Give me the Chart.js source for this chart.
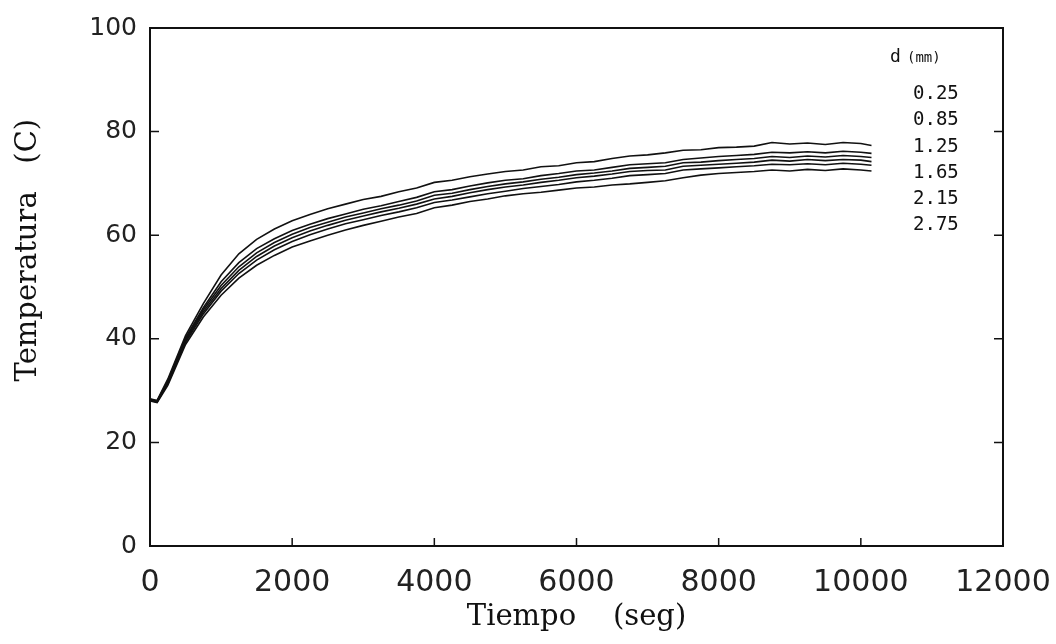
<!DOCTYPE html>
<html>
<head>
<meta charset="utf-8">
<script src="https://cdn.jsdelivr.net/npm/chart.js@4.4.1/dist/chart.umd.min.js"></script>
<style>
  html, body { margin: 0; padding: 0; background: #fff; }
</style>
</head>
<body>
<canvas id="tempChart" width="1056" height="644"></canvas>
<script>
// tiempo (seg) y temperatura (C) para cada diametro d (mm)
const tiempo = [0, 100, 250, 500, 750, 1000, 1250, 1500, 1750, 2000, 2250, 2500, 2750, 3000, 3250, 3500, 3750, 4000, 4250, 4500, 4750, 5000, 5250, 5500, 5750, 6000, 6250, 6500, 6750, 7000, 7250, 7500, 7750, 8000, 8250, 8500, 8750, 9000, 9250, 9500, 9750, 10000, 10150];

const d025 = [28.4, 28.1, 32.2, 40.6, 46.8, 52.3, 56.4, 59.2, 61.2, 62.8, 64.0, 65.1, 66.0, 66.9, 67.5, 68.4, 69.1, 70.2, 70.6, 71.3, 71.8, 72.3, 72.6, 73.2, 73.4, 74.0, 74.2, 74.8, 75.3, 75.5, 75.9, 76.4, 76.5, 76.9, 77.0, 77.2, 77.9, 77.6, 77.8, 77.5, 77.9, 77.7, 77.3];
const d085 = [28.2, 27.9, 31.9, 40.2, 46.0, 51.0, 54.7, 57.4, 59.3, 60.9, 62.1, 63.2, 64.1, 65.0, 65.7, 66.5, 67.3, 68.4, 68.8, 69.5, 70.1, 70.6, 70.9, 71.5, 71.9, 72.4, 72.6, 73.1, 73.6, 73.8, 74.0, 74.6, 74.9, 75.2, 75.4, 75.6, 76.0, 75.9, 76.1, 75.9, 76.2, 76.0, 75.8];
const d125 = [28.3, 28.0, 31.7, 39.9, 45.6, 50.3, 53.9, 56.6, 58.6, 60.2, 61.5, 62.5, 63.5, 64.3, 65.1, 65.8, 66.6, 67.7, 68.1, 68.8, 69.4, 69.9, 70.3, 70.8, 71.2, 71.7, 72.0, 72.4, 72.9, 73.1, 73.3, 74.0, 74.1, 74.4, 74.6, 74.8, 75.2, 75.0, 75.3, 75.1, 75.4, 75.2, 75.0];
const d165 = [28.1, 27.8, 31.5, 39.6, 45.2, 49.7, 53.2, 55.9, 57.9, 59.5, 60.8, 61.9, 62.9, 63.7, 64.5, 65.2, 66.0, 67.0, 67.5, 68.2, 68.8, 69.3, 69.7, 70.2, 70.6, 71.1, 71.4, 71.8, 72.3, 72.5, 72.6, 73.3, 73.5, 73.7, 73.9, 74.1, 74.5, 74.3, 74.6, 74.4, 74.6, 74.5, 74.2];
const d215 = [28.2, 27.9, 31.3, 39.3, 44.8, 49.2, 52.6, 55.2, 57.2, 58.8, 60.1, 61.2, 62.2, 63.0, 63.8, 64.5, 65.3, 66.3, 66.8, 67.4, 68.0, 68.5, 69.0, 69.4, 69.8, 70.3, 70.6, 71.0, 71.5, 71.7, 71.9, 72.6, 72.8, 73.0, 73.2, 73.4, 73.7, 73.6, 73.8, 73.6, 73.9, 73.7, 73.5];
const d275 = [28.0, 27.7, 31.0, 38.9, 44.2, 48.4, 51.7, 54.2, 56.1, 57.7, 58.9, 60.0, 61.0, 61.9, 62.7, 63.5, 64.2, 65.3, 65.8, 66.5, 67.0, 67.6, 68.0, 68.3, 68.7, 69.1, 69.3, 69.7, 69.9, 70.2, 70.5, 71.1, 71.6, 71.9, 72.1, 72.3, 72.6, 72.4, 72.7, 72.5, 72.8, 72.6, 72.4];

const diametros = ["0.25", "0.85", "1.25", "1.65", "2.15", "2.75"];
const series = [d025, d085, d125, d165, d215, d275];
const tituloLeyenda = ["d", "(mm)"];

const nb = "\u00a0";
const tituloX = "Tiempo" + nb.repeat(4) + "(seg)";
const tituloY = nb.repeat(8) + "Temperatura" + nb.repeat(3) + "(C)";

// caja, marcas hacia adentro y leyenda de texto
const cajaYMarcas = {
    id: "cajaYMarcas",
    afterDatasetsDraw(chart) {
        const { ctx, chartArea: a, scales: { x, y } } = chart;
        ctx.save();
        ctx.strokeStyle = "#111";
        ctx.lineWidth = 2;
        ctx.strokeRect(a.left, a.top, a.width, a.height);

        ctx.lineWidth = 1.5;
        ctx.beginPath();
        x.ticks.forEach(t => {
            const px = x.getPixelForValue(t.value);
            ctx.moveTo(px, a.bottom);
            ctx.lineTo(px, a.bottom - 8);
        });
        y.ticks.forEach(t => {
            const py = y.getPixelForValue(t.value);
            ctx.moveTo(a.left, py);
            ctx.lineTo(a.left + 9, py);
            ctx.moveTo(a.right, py);
            ctx.lineTo(a.right - 9, py);
        });
        ctx.stroke();

        ctx.fillStyle = "#111";
        ctx.textAlign = "left";
        ctx.textBaseline = "middle";
        ctx.font = '18px "DejaVu Sans Mono"';
        ctx.fillText(tituloLeyenda[0], a.right - 113, a.top + 29);
        ctx.font = '14px "DejaVu Sans Mono"';
        ctx.fillText(tituloLeyenda[1], a.right - 96, a.top + 30);
        ctx.font = '19px "DejaVu Sans Mono"';
        diametros.forEach((d, i) => ctx.fillText(d, a.right - 90, a.top + 66 + i * 26.3));
        ctx.restore();
    }
};

new Chart(document.getElementById("tempChart"), {
    type: "line",
    data: {
        datasets: series.map((s, i) => ({
            label: diametros[i],
            data: tiempo.map((t, j) => ({ x: t, y: s[j] })),
            borderColor: "#111",
            borderWidth: 1.6,
            pointRadius: 0,
            tension: 0,
            fill: false
        }))
    },
    options: {
        responsive: false,
        maintainAspectRatio: false,
        animation: false,
        layout: { padding: { top: 18, right: 53, left: 0, bottom: 0 } },
        plugins: { legend: { display: false }, tooltip: { enabled: false } },
        scales: {
            x: {
                type: "linear",
                min: 0, max: 12000,
                afterFit: s => { s.height = 98; s.paddingRight = 0; },
                grid: { display: false, drawTicks: false },
                border: { display: false },
                ticks: {
                    stepSize: 2000, maxRotation: 0, autoSkip: false, padding: 19,
                    callback: v => String(v),
                    color: "#222", font: { family: "DejaVu Sans", size: 30 }
                },
                title: {
                    display: true, text: tituloX, color: "#111",
                    font: { family: "DejaVu Serif", size: 29 },
                    padding: { top: 0, bottom: 9 }
                }
            },
            y: {
                min: 0, max: 100,
                afterFit: s => { s.width = 150; },
                grid: { display: false, drawTicks: false },
                border: { display: false },
                ticks: {
                    stepSize: 20, padding: 13,
                    color: "#222", font: { family: "DejaVu Sans", size: 25 }
                },
                title: {
                    display: true, text: tituloY, color: "#111",
                    font: { family: "DejaVu Serif", size: 29 },
                    padding: { top: 11, bottom: 0 }
                }
            }
        }
    },
    plugins: [cajaYMarcas]
});
</script>
</body>
</html>
